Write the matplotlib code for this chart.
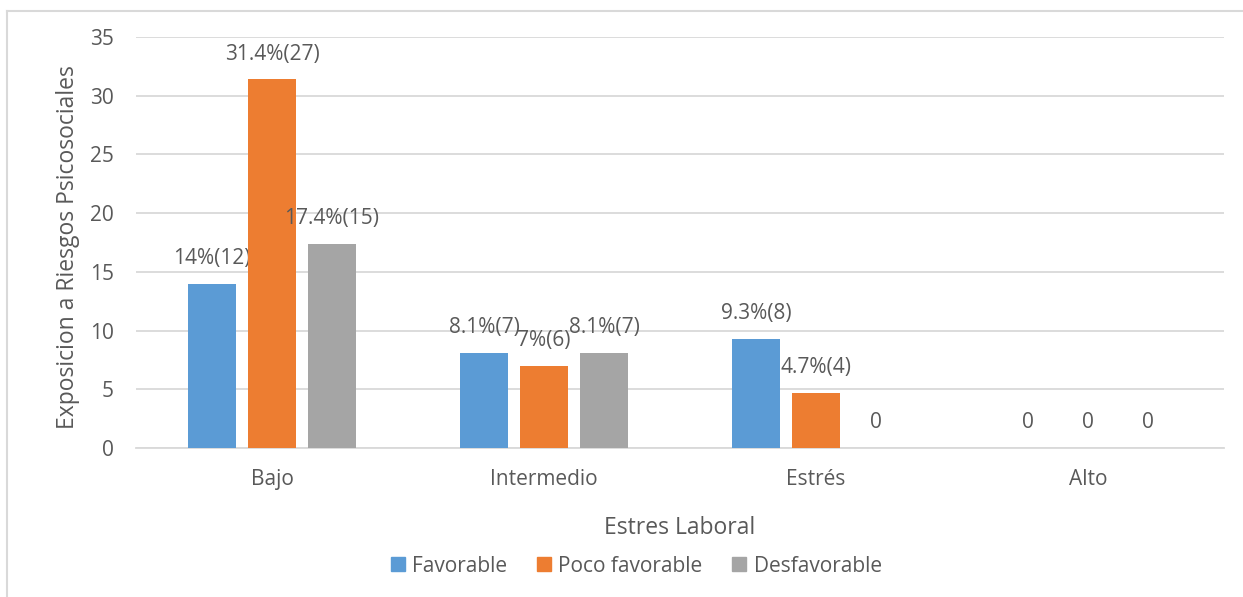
import matplotlib
matplotlib.use("Agg")
import matplotlib.pyplot as plt
import numpy as np
from matplotlib.lines import Line2D

# ── Data ──────────────────────────────────────────────────────────────────────
categories = ["Bajo", "Intermedio", "Estrés", "Alto"]
series_names = ["Favorable", "Poco favorable", "Desfavorable"]

favorable = [14, 8.1, 9.3, 0]
poco_favorable = [31.4, 7, 4.7, 0]
desfavorable = [17.4, 8.1, 0, 0]

favorable_counts = [12, 7, 8, None]
poco_favorable_counts = [27, 6, 4, None]
desfavorable_counts = [15, 7, None, None]

colors = ["#5b9bd5", "#ed7d31", "#a5a5a5"]
text_color = "#595959"
grid_color = "#d9d9d9"

plt.rcParams["font.family"] = ["Open Sans", "DejaVu Sans"]

fig = plt.figure(figsize=(12.43, 5.97), dpi=100)
ax = fig.add_axes([136 / 1243, 1 - 448 / 597, (1224 - 136) / 1243, (448 - 37) / 597])

x = np.arange(len(categories))
offset = 0.2206
width = 0.176

series = [
    (favorable, favorable_counts),
    (poco_favorable, poco_favorable_counts),
    (desfavorable, desfavorable_counts),
]

for i, ((vals, counts), color) in enumerate(zip(series, colors)):
    xs = x + (i - 1) * offset
    ax.bar(xs, vals, width, color=color, zorder=3)
    for xi, v, c in zip(xs, vals, counts):
        label = "0" if c is None else f"{v:g}%({c})"
        ax.annotate(label, (xi, v), xytext=(0, 25), textcoords="offset pixels",
                    ha="center", va="center", fontsize=15, color=text_color)

ax.set_xlim(-0.5, len(categories) - 0.5)
ax.set_ylim(0, 35)
ax.set_yticks(range(0, 36, 5))
ax.set_xticks(x)
ax.set_xticklabels(categories)
ax.tick_params(axis="both", length=0, labelsize=15, colors=text_color)
ax.tick_params(axis="x", pad=15)
ax.tick_params(axis="y", pad=16)
ax.grid(axis="y", color=grid_color, linewidth=1.3, zorder=0)
for side in ["top", "right", "left"]:
    ax.spines[side].set_visible(False)
ax.spines["bottom"].set_color(grid_color)
ax.spines["bottom"].set_linewidth(1.3)

ax.set_xlabel("Estres Laboral", fontsize=16.5, color=text_color, va="center")
ax.xaxis.set_label_coords(0.5, -(528 - 448) / 411)
ax.set_ylabel("Exposicion a Riesgos Psicosociales", fontsize=16.5, color=text_color, va="center")
ax.yaxis.set_label_coords(-(136 - 68) / 1088, 0.49)

# Legend below the axis title
handles = [Line2D([0], [0], marker="s", linestyle="none", markersize=9.5,
                  markerfacecolor=c, markeredgecolor=c) for c in colors]
fig.legend(handles, series_names, loc="center", bbox_to_anchor=(635 / 1243, 1 - 566 / 597),
           ncol=3, frameon=False, fontsize=15, labelcolor=text_color,
           handlelength=0.9, handletextpad=0.25, columnspacing=1.3)

# Chart area border (top and left edges visible)
fig.add_artist(Line2D([7 / 1243, 1], [1 - 11 / 597, 1 - 11 / 597], transform=fig.transFigure,
                      color=grid_color, linewidth=1.5))
fig.add_artist(Line2D([7 / 1243, 7 / 1243], [0, 1 - 11 / 597], transform=fig.transFigure,
                      color=grid_color, linewidth=1.5))

fig.savefig("out.png", dpi=100)
